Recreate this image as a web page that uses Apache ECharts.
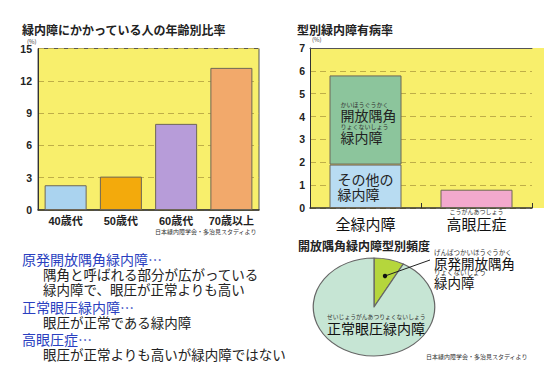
<!DOCTYPE html>
<html><head><meta charset="utf-8">
<script src="https://cdn.jsdelivr.net/npm/echarts@6/dist/echarts.min.js"></script>
<style>
html,body{margin:0;padding:0;background:#fff;width:550px;height:379px;overflow:hidden}
#pie{position:absolute;left:324px;top:257px;width:100px;height:100px;transform:scaleX(1.24);transform-origin:50% 50%;z-index:0}
#main{position:absolute;left:0;top:0;width:550px;height:379px;z-index:1}
</style></head>
<body><div id="pie"></div><div id="main"></div>
<script>
// ---- data ----
const ageCategories = ['40歳代', '50歳代', '60歳代', '70歳以上'];
const ageRates = [2.3, 3.1, 8.0, 13.2];
const ageAxis = { min: 0, max: 15, interval: 3 };

const typeCategories = ['全緑内障', '高眼圧症'];
const typeRuby = ['', 'こうがんあつしょう'];
const otherGlaucoma = [1.9, null];
const openAngleGlaucoma = [3.9, null];
const ocularHypertension = [null, 0.8];
const typeAxis = { min: 0, max: 7, interval: 1 };

const poagTypes = ['原発開放隅角緑内障', '正常眼圧緑内障'];
const poagShares = [8, 92];

// ---- styles ----
const JP = '"Noto Sans CJK JP", sans-serif';
const NUM = '"Liberation Sans", "Noto Sans CJK JP", sans-serif';
const ageColors = ['#aad3ef', '#f3aa0c', '#b79cd9', '#f2a96b'];
const BAR_BORDER = '#6e6657';
const YELLOW = '#f8ef6c';
const BLUE = '#2a3fc0';
const GRIDLINE = { lineStyle: { color: '#bfae48', type: [6, 4], width: 1 } };

const main = echarts.init(document.getElementById('main'), null, { renderer: 'svg' });
const txt = (x, y, text, size, opts = {}) => ({
  type: 'text', x, y, silent: true,
  style: Object.assign({ text, fontSize: size, fontFamily: JP, fill: '#222', verticalAlign: 'middle', align: 'left' }, opts)
});
const rich = (x, y, text, richStyles) => ({
  type: 'text', x, y, silent: true,
  style: { text, rich: richStyles, fontFamily: JP, fill: '#222', verticalAlign: 'top', align: 'left' }
});
const blockRich = {
  h: { fontSize: 14, lineHeight: 14, fontFamily: JP, fill: BLUE },
  b: { fontSize: 13.5, lineHeight: 15, fontFamily: JP, fill: '#222', padding: [0, 0, 0, 21] }
};

main.setOption({
  animation: false,
  backgroundColor: 'transparent',
  grid: [
    { left: 38, top: 48.5, width: 221, height: 161.5, show: true, backgroundColor: YELLOW, borderColor: '#555', borderWidth: 1 },
    { left: 310, top: 48, width: 222, height: 160, show: true, backgroundColor: YELLOW, borderWidth: 0 }
  ],
  xAxis: [
    { gridIndex: 0, type: 'category', data: ageCategories,
      axisLine: { lineStyle: { color: '#333', width: 1.5 } }, axisTick: { show: false },
      axisLabel: { interval: 0, hideOverlap: false, margin: 5, color: '#222', fontSize: 11, fontWeight: 'bold', fontFamily: NUM } },
    { gridIndex: 1, type: 'category', data: typeCategories,
      axisLine: { lineStyle: { color: '#333', width: 1.5 } },
      axisTick: { show: true, inside: true, length: 5, lineStyle: { color: '#333' } },
      axisLabel: { interval: 0, hideOverlap: false, margin: 0, color: '#111',
        formatter: (v, i) => '{r|' + (typeRuby[i] || ' ') + '}\n{c|' + v + '}',
        rich: { r: { fontSize: 6, lineHeight: 7, fontFamily: JP, color: '#333' },
                c: { fontSize: 15, lineHeight: 16, fontFamily: JP, color: '#111' } } } },
    { gridIndex: 1, type: 'category', position: 'top', data: typeCategories,
      axisLine: { lineStyle: { color: '#555', width: 1 } }, axisTick: { show: false }, axisLabel: { show: false } }
  ],
  yAxis: [
    { gridIndex: 0, type: 'value', min: ageAxis.min, max: ageAxis.max, interval: ageAxis.interval,
      axisLine: { show: true, lineStyle: { color: '#333' } }, axisTick: { show: false },
      axisLabel: { margin: 6, color: '#222', fontSize: 10.5, fontWeight: 'bold', fontFamily: NUM },
      splitLine: GRIDLINE },
    { gridIndex: 1, type: 'value', min: typeAxis.min, max: typeAxis.max, interval: typeAxis.interval,
      axisLine: { show: true, lineStyle: { color: '#333' } }, axisTick: { show: false },
      axisLabel: { margin: 5, color: '#222', fontSize: 10.5, fontWeight: 'bold', fontFamily: NUM },
      splitLine: GRIDLINE }
  ],
  series: [
    { type: 'bar', xAxisIndex: 0, yAxisIndex: 0, barWidth: 42,
      data: ageRates.map((v, i) => ({ value: v, itemStyle: { color: ageColors[i] } })),
      itemStyle: { borderColor: BAR_BORDER, borderWidth: 1 } },
    { type: 'bar', name: 'その他の緑内障', xAxisIndex: 1, yAxisIndex: 1, stack: 'type', barWidth: 72,
      data: otherGlaucoma, itemStyle: { color: '#b8dcf2', borderColor: BAR_BORDER, borderWidth: 1 },
      label: { show: true, position: [8, 7], align: 'left', verticalAlign: 'top',
        formatter: '{m|その他の}\n{m|緑内障}',
        rich: { m: { fontSize: 14, lineHeight: 15, fontFamily: JP, color: '#222' } } } },
    { type: 'bar', name: '開放隅角緑内障', xAxisIndex: 1, yAxisIndex: 1, stack: 'type', barWidth: 72,
      data: openAngleGlaucoma, itemStyle: { color: '#8cc59c', borderColor: BAR_BORDER, borderWidth: 1 },
      label: { show: true, position: [11, 25], align: 'left', verticalAlign: 'top',
        formatter: '{r|かいほうぐうかく}\n{m|開放隅角}\n{r|りょくないしょう}\n{m|緑内障}',
        rich: { r: { fontSize: 6, lineHeight: 7.5, fontFamily: JP, color: '#333' },
                m: { fontSize: 14, lineHeight: 14.5, fontFamily: JP, color: '#222' } } } },
    { type: 'bar', name: '高眼圧症', xAxisIndex: 1, yAxisIndex: 1, stack: 'type', barWidth: 70,
      data: ocularHypertension, itemStyle: { color: '#f3a9cd', borderColor: BAR_BORDER, borderWidth: 1 } }
  ],
  graphic: [
    { type: 'rect', shape: { x: 532, y: 48, width: 12, height: 160 }, style: { fill: YELLOW }, silent: true },
    txt(22, 29, '緑内障にかかっている人の年齢別比率', 12, { fontWeight: 'bold' }),
    txt(27, 41, '(%)', 6, { fill: '#444' }),
    txt(155, 231, '日本緑内障学会・多治見スタディより', 6, { fill: '#333' }),
    txt(297, 29, '型別緑内障有病率', 12, { fontWeight: 'bold' }),
    txt(312, 39, '(%)', 6, { fill: '#444' }),
    txt(298, 245, '開放隅角緑内障型別頻度', 12, { fontWeight: 'bold' }),
    txt(434, 252, 'げんぱつかいほうぐうかく', 6.5, { fill: '#333' }),
    txt(434, 262.5, '原発開放隅角', 13.5, { fill: '#111' }),
    txt(434, 272, 'りょくないしょう', 6.5, { fill: '#333' }),
    txt(434, 282, '緑内障', 13.5, { fill: '#111' }),
    txt(327, 316.5, 'せいじょうがんあつりょくないしょう', 5.8, { fill: '#333' }),
    txt(327, 328, '正常眼圧緑内障', 14, { fill: '#111' }),
    { type: 'line', silent: true, shape: { x1: 385, y1: 276, x2: 430, y2: 260 }, style: { stroke: '#222', lineWidth: 1 } },
    { type: 'circle', silent: true, shape: { cx: 385, cy: 276, r: 2.2 }, style: { fill: '#111' } },
    txt(426, 356, '日本緑内障学会・多治見スタディより', 6, { fill: '#333' }),
    rich(22, 252, '{h|原発開放隅角緑内障…}\n{b|隅角と呼ばれる部分が広がっている}\n{b|緑内障で、眼圧が正常よりも高い}', blockRich),
    rich(22, 300, '{h|正常眼圧緑内障…}\n{b|眼圧が正常である緑内障}', blockRich),
    rich(22, 332, '{h|高眼圧症…}\n{b|眼圧が正常よりも高いが緑内障ではない}', blockRich)
  ]
});

const pie = echarts.init(document.getElementById('pie'), null, { renderer: 'svg' });
const pieColors = ['#b5d63c', '#c6e5d4'];
pie.setOption({
  animation: false,
  backgroundColor: 'transparent',
  series: [{
    type: 'pie', radius: 49, center: ['50%', '50%'], startAngle: 90, clockwise: true, silent: true,
    label: { show: false }, labelLine: { show: false },
    itemStyle: { borderColor: '#666', borderWidth: 1 },
    data: poagTypes.map((n, i) => ({ name: n, value: poagShares[i], itemStyle: { color: pieColors[i] } }))
  }]
});
</script>
</body></html>
